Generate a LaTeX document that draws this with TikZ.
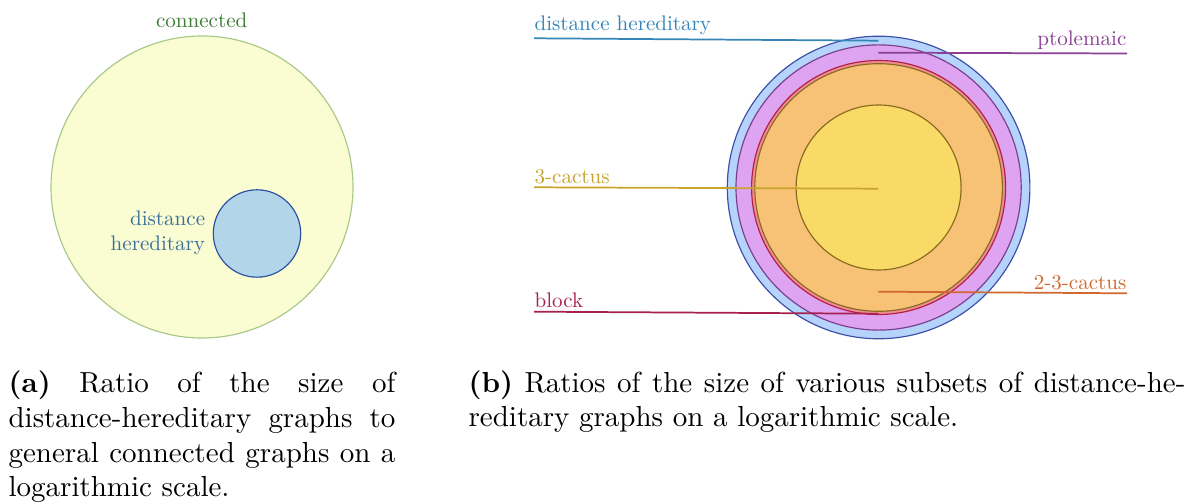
\documentclass[tikz,border=0pt]{standalone}
\usepackage{graphicx}
\definecolor{connfill}{HTML}{FAFCD2}
\definecolor{connline}{HTML}{A9C98A}
\definecolor{conntext}{HTML}{3D7A35}
\definecolor{dhafill}{HTML}{B2D5EA}
\definecolor{dhaline}{HTML}{2A4FA0}
\definecolor{dhatext}{HTML}{3B6F9A}
\definecolor{dhfill}{HTML}{B5D3FB}
\definecolor{dhline}{HTML}{3A50A8}
\definecolor{ptfill}{HTML}{DEA4F2}
\definecolor{ptline}{HTML}{7A3E8C}
\definecolor{blfill}{HTML}{F08C96}
\definecolor{blline}{HTML}{B02040}
\definecolor{cacfill}{HTML}{F7C276}
\definecolor{cacline}{HTML}{8A6A20}
\definecolor{c3fill}{HTML}{FADA66}
\definecolor{dhcol}{HTML}{3585B8}
\definecolor{ptcol}{HTML}{8B3F96}
\definecolor{c3col}{HTML}{C8A42C}
\definecolor{c23col}{HTML}{D0682F}
\definecolor{blcol}{HTML}{A82050}
\newcommand{\smallt}[1]{\scalebox{0.727}{#1}}
\begin{document}
\begin{tikzpicture}[x=0.34483pt,y=-0.34483pt,
  ring/.style={line width=0.4pt},
  lbl/.style={inner xsep=0pt, inner ysep=1pt},
  lead/.style={line width=0.6pt}]
\useasboundingbox (0,0) rectangle (1195,503);
% ---------- (a)
\coordinate (CA) at (202,187);
\coordinate (CB) at (257,233.5);
\draw[ring, draw=connline, fill=connfill] (CA) circle (151);
\draw[ring, draw=dhaline, fill=dhafill] (CB) circle (43.7);
\node[anchor=base, inner sep=0pt, text=conntext] (conn) at (201.7,28) {\smallt{connected}};
\node[anchor=base east, inner sep=0pt, text=dhatext] (dha) at (205.7,250.7)
  {\smallt{\begin{tabular}[b]{@{}r@{}}distance\\hereditary\end{tabular}}};
% ---------- (b)
\coordinate (C) at (878.6,187.5);
\draw[ring, draw=dhline, fill=dhfill] (C) circle (151.3);
\draw[ring, draw=ptline, fill=ptfill] (C) circle (142.6);
\draw[ring, draw=blline, fill=blfill] (C) circle (127);
\draw[ring, draw=cacline, fill=cacfill] (C) circle (123.8);
\draw[ring, draw=cacline, fill=c3fill] (C) circle (82.5);
\node[lbl, anchor=south west, text=dhcol] (ldh) at (534,38.3) {\smallt{distance hereditary}};
\node[lbl, anchor=south east, text=ptcol] (lpt) at (1127,53.5) {\smallt{ptolemaic}};
\node[lbl, anchor=south west, text=c3col] (lc3) at (534,187.3) {\smallt{3-cactus}};
\node[lbl, anchor=south east, text=c23col] (lc23) at (1127,293.3) {\smallt{2-3-cactus}};
\node[lbl, anchor=south west, text=blcol] (lbl) at (534,311.7) {\smallt{block}};
\coordinate (edh) at (878.3,40.7);
\coordinate (ept) at (878.3,52.7);
\coordinate (ec3) at (878.3,188.7);
\coordinate (ec23) at (878.3,291.7);
\coordinate (ebl) at (878.3,313.7);
\draw[lead, dhcol] (ldh.south west) -- (edh);
\draw[lead, ptcol] (lpt.south east) -- (ept);
\draw[lead, c3col] (lc3.south west) -- (ec3);
\draw[lead, c23col] (lc23.south east) -- (ec23);
\draw[lead, blcol] (lbl.south west) -- (ebl);
% ---------- captions
\node[anchor=base west, inner sep=0pt, align=left] (capa) at (8,497)
  {\makebox[133.4pt][s]{\textbf{(a)} Ratio of the size of}\\
   \makebox[133.4pt][s]{distance-hereditary graphs to}\\
   \makebox[133.4pt][s]{general connected graphs on a}\\
   logarithmic scale.};
\node[anchor=base west, inner sep=0pt, align=left] (capb) at (468,427)
  {\makebox[247.2pt][s]{\textbf{(b)} Ratios of the size of various subsets of distance-he-}\\
   reditary graphs on a logarithmic scale.};
\end{tikzpicture}
\end{document}
